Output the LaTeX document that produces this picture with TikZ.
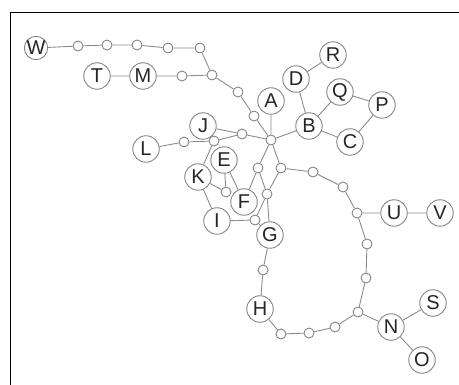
\documentclass[tikz,border=0pt]{standalone}
\usepackage{fontspec}
\setmainfont{Liberation Sans}
\begin{document}
\begin{tikzpicture}[x=1pt,y=-1pt,
  lab/.style={circle,draw=black!48,line width=0.9pt,fill=white,minimum size=26.5pt,inner sep=0pt,
    font=\fontsize{20}{20}\selectfont,text=black!85},
  labsmall/.style={lab,minimum size=23pt},
  dot/.style={circle,draw=black!48,line width=0.9pt,fill=white,minimum size=10pt,inner sep=0pt},
  edge/.style={draw=black!45,line width=0.9pt}]
\useasboundingbox (0,0) rectangle (459,385);
% frame
\draw[line width=1.6pt] (10.5,385) -- (10.5,12.5) -- (459,12.5);
% labelled nodes
\node[labsmall] (W) at (36,48) {W};
\node[lab] (T) at (97,76) {T};
\node[lab] (M) at (143,76) {M};
\node[lab] (A) at (271,101) {A};
\node[lab] (B) at (309,126) {B};
\node[lab] (D) at (296,79) {D};
\node[lab] (R) at (333,55) {R};
\node[lab] (Q) at (340,92) {Q};
\node[lab] (P) at (382,105) {P};
\node[lab] (C) at (350,142) {C};
\node[lab] (J) at (203,126) {J};
\node[lab] (L) at (146,149) {L};
\node[lab] (E) at (224,160) {E};
\node[lab] (K) at (198,177) {K};
\node[lab] (F) at (244,202) {F};
\node[lab] (I) at (217,221) {I};
\node[lab] (G) at (270,235) {G};
\node[lab] (U) at (394,213) {U};
\node[lab] (V) at (440,213) {V};
\node[lab] (H) at (260,309) {H};
\node[lab] (N) at (391,327) {N};
\node[lab] (S) at (433,303) {S};
\node[lab] (O) at (422,360) {O};
% unlabelled nodes
\foreach \n/\x/\y in {w1/78/46, w2/107/45, w3/137/45, w4/168/48, w5/200/48,
  m1/182/76, j6/212/75, a1/238/92, a2/254/116, hub/271/140,
  sa/242/134, sb/214/141, sL/184/142, sc/226/192, sd/258/168, se/281/168,
  sf/267/194, sg/255/220, h1/313/172, h2/343/187, h3/357/213, h4/367/244,
  h5/366/278, h6/358/312, g1/263/270, b1/281/334, b2/309/333, b3/335/327}
  \node[dot] (\n) at (\x,\y) {};
% connectors
\path[edge]
  (W) -- (w1) (w1) -- (w2) (w2) -- (w3) (w3) -- (w4) (w4) -- (w5) (w5) -- (j6)
  (T) -- (M) (M) -- (m1) (m1) -- (j6)
  (j6) -- (a1) (a1) -- (a2) (a2) -- (hub)
  (A) -- (hub) (hub) -- (B)
  (B) -- (D) (D) -- (R) (B) -- (Q) (Q) -- (P) (P) -- (C) (C) -- (B)
  (hub) -- (sa) (sa) -- (J) (sa) -- (sb) (J) -- (sb)
  (L) -- (sL) (sL) -- (sb) (sb) -- (K)
  (K) -- (sc) (sc) -- (E) (E) -- (F) (K) -- (I) (I) -- (sg) (sg) -- (G)
  (hub) -- (sd) (hub) -- (se) (sd) -- (F) (sd) -- (sf) (se) -- (sf)
  (sf) -- (G) (sf) -- (sg)
  (G) -- (g1) (g1) -- (H)
  (H) -- (b1) (b1) -- (b2) (b2) -- (b3) (b3) -- (h6) (h6) -- (N)
  (N) -- (S) (N) -- (O)
  (h6) -- (h5) (h5) -- (h4) (h4) -- (h3) (h3) -- (U) (U) -- (V)
  (h3) -- (h2) (h2) -- (h1) (h1) -- (se);
\end{tikzpicture}
\end{document}
